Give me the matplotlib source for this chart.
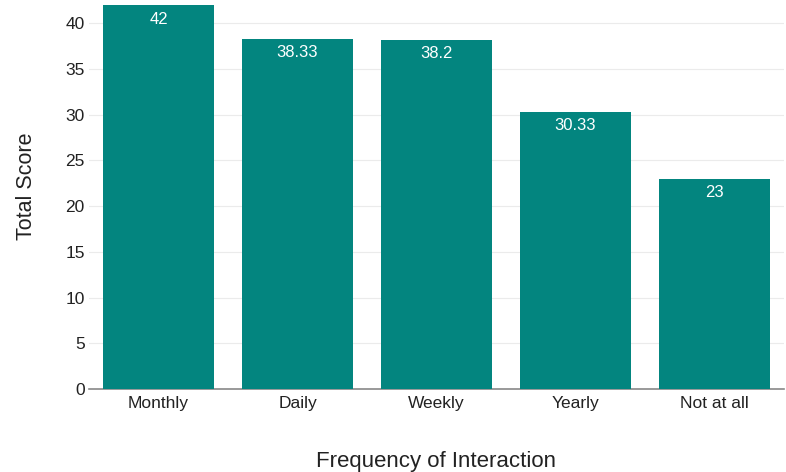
import matplotlib
matplotlib.use("Agg")
import matplotlib.pyplot as plt

categories = ["Monthly", "Daily", "Weekly", "Yearly", "Not at all"]
values = [42, 38.33, 38.2, 30.33, 23]
labels = ["42", "38.33", "38.2", "30.33", "23"]
yticks = [0, 5, 10, 15, 20, 25, 30, 35, 40]

plt.rcParams['font.family'] = ['Liberation Sans', 'DejaVu Sans']

fig = plt.figure(figsize=(7.86, 4.72), dpi=100)
ax = fig.add_axes([89/786, 1-389/472, (784-89)/786, (389-5)/472])

x = range(len(categories))
bars = ax.bar(x, values, width=0.8, color='#03857f', zorder=3)
for b, lab in zip(bars, labels):
    ax.annotate(lab, (b.get_x() + b.get_width()/2, b.get_height()),
                xytext=(0, -14), textcoords='offset pixels',
                ha='center', va='center', color='white', fontsize=12)

ax.set_xlim(-0.5, len(categories) - 0.5)
ax.set_ylim(0, 42)
ax.set_yticks(yticks)
ax.set_xticks(list(x))
ax.set_xticklabels(categories)
ax.grid(axis='y', color='#ebebeb', linewidth=0.8, zorder=0)
for s in ['top', 'right', 'left']:
    ax.spines[s].set_visible(False)
ax.spines['bottom'].set_color('#888888')
ax.spines['bottom'].set_linewidth(1.2)
ax.tick_params(axis='x', length=0, labelsize=12.5, pad=5, colors='#222222')
ax.tick_params(axis='y', length=0, labelsize=12.5, pad=3, labelcolor='#222222')
ax.set_ylabel("Total Score", fontsize=15.5, color='#222222')
ax.yaxis.set_label_coords(-0.075, 0.529)
ax.set_xlabel("Frequency of Interaction", fontsize=16, labelpad=29, color='#222222')

fig.savefig("out.png", dpi=100)
